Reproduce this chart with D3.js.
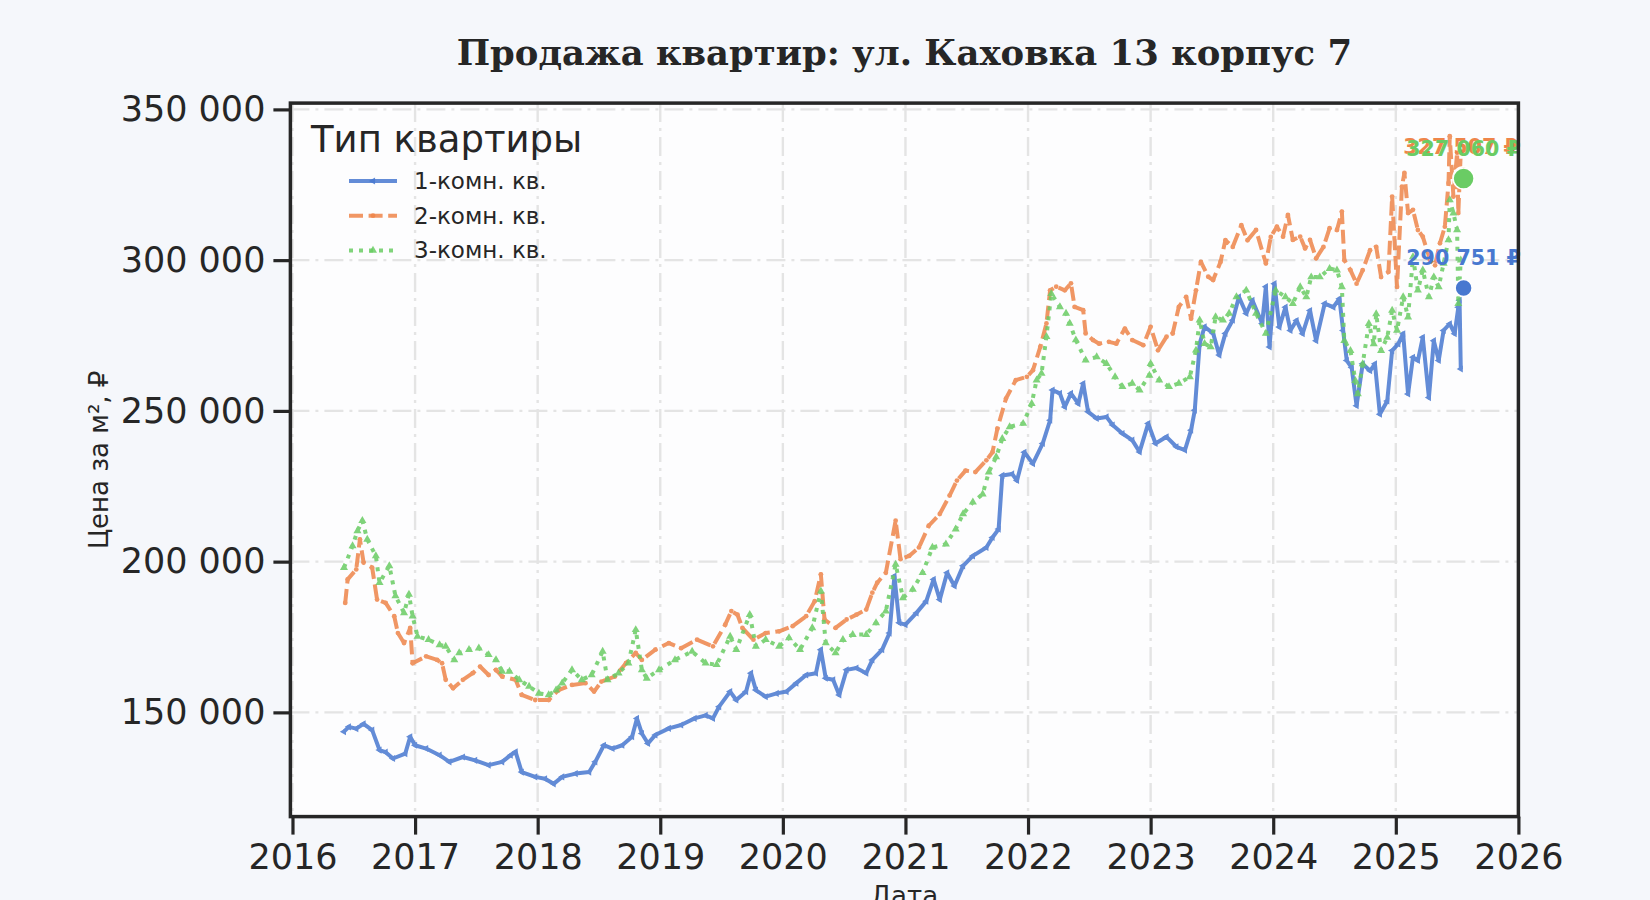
<!DOCTYPE html>
<html>
<head>
<meta charset="utf-8">
<script src="https://cdn.jsdelivr.net/npm/d3@7"></script>
<style>
  body { margin: 0; background: #f5f7fb; }
  svg { display: block; }
</style>
</head>
<body>
<svg id="chart" width="1650" height="900"></svg>
<script>
// price per m2, [decimal year, value]
const oneRoom = [[2016.42,143600],[2016.46,145200],[2016.52,144600],[2016.58,146200],[2016.65,144100],[2016.71,137500],[2016.76,136800],[2016.82,134700],[2016.92,136300],[2016.96,141900],[2017.0,139100],[2017.09,138000],[2017.2,135800],[2017.28,133600],[2017.39,135200],[2017.49,134100],[2017.6,132500],[2017.71,133600],[2017.78,135800],[2017.82,136900],[2017.87,130200],[2017.98,128600],[2018.06,128000],[2018.13,126300],[2018.2,128600],[2018.31,129700],[2018.42,130200],[2018.47,133600],[2018.54,139100],[2018.61,138000],[2018.69,139100],[2018.77,141900],[2018.81,148000],[2018.85,143000],[2018.9,139700],[2018.96,142500],[2019.07,144700],[2019.17,145800],[2019.28,148000],[2019.37,149000],[2019.43,148000],[2019.48,151900],[2019.57,156900],[2019.62,154100],[2019.7,156900],[2019.74,163000],[2019.78,157400],[2019.86,155200],[2019.95,156300],[2020.03,156900],[2020.11,159700],[2020.19,162400],[2020.27,163000],[2020.31,170800],[2020.35,161300],[2020.41,160800],[2020.46,155800],[2020.52,164100],[2020.6,164700],[2020.68,163000],[2020.73,167400],[2020.81,170800],[2020.87,176300],[2020.91,195200],[2020.95,179700],[2021.0,179100],[2021.09,183000],[2021.17,186900],[2021.23,194100],[2021.28,187400],[2021.34,196300],[2021.4,191900],[2021.47,198600],[2021.55,201900],[2021.66,204700],[2021.71,208000],[2021.76,210800],[2021.79,228600],[2021.87,229100],[2021.91,226900],[2021.97,236300],[2022.04,232500],[2022.12,239200],[2022.18,246900],[2022.2,256900],[2022.26,255800],[2022.3,251300],[2022.35,255800],[2022.41,252400],[2022.45,259100],[2022.49,249700],[2022.56,247500],[2022.64,248000],[2022.69,245300],[2022.77,242500],[2022.85,240300],[2022.91,236400],[2022.98,245800],[2023.04,239200],[2023.13,241400],[2023.21,238100],[2023.28,237000],[2023.33,243600],[2023.36,250200],[2023.4,272300],[2023.44,277900],[2023.51,275700],[2023.56,268500],[2023.61,275700],[2023.67,280100],[2023.72,287800],[2023.78,282300],[2023.83,286700],[2023.91,279000],[2023.94,291200],[2023.97,271200],[2024.01,292200],[2024.05,277800],[2024.1,284400],[2024.14,276700],[2024.19,280000],[2024.24,275600],[2024.3,283300],[2024.35,273300],[2024.42,285600],[2024.49,284400],[2024.54,287200],[2024.57,276700],[2024.6,266700],[2024.64,264400],[2024.68,251700],[2024.73,265600],[2024.79,263300],[2024.83,265600],[2024.87,248900],[2024.93,253300],[2024.97,270000],[2025.02,272200],[2025.06,275600],[2025.1,255600],[2025.14,267800],[2025.18,266700],[2025.22,274400],[2025.27,254400],[2025.31,273300],[2025.35,266700],[2025.39,276700],[2025.44,278900],[2025.48,275600],[2025.51,284400],[2025.52,286700],[2025.53,263900]];

const twoRoom = [[2016.43,186300],[2016.45,194100],[2016.52,197400],[2016.55,207400],[2016.58,199700],[2016.65,198000],[2016.69,187400],[2016.76,186300],[2016.83,181900],[2016.86,176300],[2016.91,173000],[2016.96,178000],[2016.98,166300],[2017.09,168600],[2017.18,167400],[2017.22,166300],[2017.25,160800],[2017.31,158000],[2017.39,160800],[2017.47,163000],[2017.53,165200],[2017.6,162400],[2017.66,164100],[2017.71,161900],[2017.82,160800],[2017.87,155800],[2017.98,154100],[2018.09,154100],[2018.17,157400],[2018.28,159100],[2018.39,159700],[2018.46,156900],[2018.52,160200],[2018.63,161900],[2018.72,166300],[2018.8,169700],[2018.85,167400],[2018.96,170800],[2019.07,173000],[2019.17,171300],[2019.3,174100],[2019.43,171900],[2019.53,179100],[2019.58,183600],[2019.63,182400],[2019.67,178000],[2019.76,174100],[2019.86,176300],[2019.97,176900],[2020.08,178600],[2020.19,181900],[2020.26,186900],[2020.31,195800],[2020.34,180800],[2020.43,178000],[2020.52,180800],[2020.6,182400],[2020.68,184100],[2020.73,189700],[2020.77,193000],[2020.84,196300],[2020.92,213600],[2020.96,200800],[2021.03,201900],[2021.11,204700],[2021.19,211900],[2021.28,215800],[2021.36,221900],[2021.42,226900],[2021.49,230200],[2021.57,229700],[2021.66,233600],[2021.71,236300],[2021.75,244100],[2021.82,254100],[2021.9,260200],[2021.99,261300],[2022.04,263500],[2022.1,271200],[2022.15,279000],[2022.18,290000],[2022.23,291200],[2022.3,290000],[2022.35,292300],[2022.38,284500],[2022.45,283400],[2022.47,275700],[2022.53,273500],[2022.58,272300],[2022.66,272900],[2022.72,272300],[2022.79,277300],[2022.85,273500],[2022.94,271800],[2023.0,277900],[2023.06,270100],[2023.13,274600],[2023.18,275700],[2023.23,284500],[2023.29,287800],[2023.33,280600],[2023.37,290000],[2023.41,299400],[2023.47,294500],[2023.51,293400],[2023.57,299400],[2023.61,306600],[2023.67,304400],[2023.74,311600],[2023.79,306600],[2023.86,310000],[2023.94,298900],[2023.98,307700],[2024.03,311100],[2024.08,307800],[2024.12,315000],[2024.16,306700],[2024.22,307800],[2024.26,303900],[2024.3,306700],[2024.35,300600],[2024.41,304400],[2024.46,310600],[2024.52,310000],[2024.56,316100],[2024.58,300000],[2024.63,296700],[2024.68,292200],[2024.73,296700],[2024.79,303300],[2024.84,304400],[2024.88,294400],[2024.94,296100],[2024.97,321100],[2025.01,291100],[2025.05,324400],[2025.07,328900],[2025.1,315600],[2025.14,316700],[2025.18,310000],[2025.22,307800],[2025.28,300000],[2025.32,298300],[2025.36,305600],[2025.4,311100],[2025.43,325600],[2025.44,341100],[2025.47,321100],[2025.5,335600],[2025.51,315600],[2025.53,336000]];

const threeRoom = [[2016.42,198000],[2016.49,205200],[2016.53,210200],[2016.57,213600],[2016.61,207400],[2016.68,201900],[2016.71,193000],[2016.79,198600],[2016.84,188600],[2016.91,183000],[2016.95,189100],[2016.98,181900],[2017.02,175200],[2017.11,174100],[2017.2,172400],[2017.25,171900],[2017.32,167400],[2017.36,169700],[2017.44,170800],[2017.52,171300],[2017.6,169100],[2017.66,167400],[2017.71,163600],[2017.77,163600],[2017.85,160800],[2017.93,158600],[2018.01,156300],[2018.09,155800],[2018.15,157400],[2018.2,159700],[2018.28,164100],[2018.36,160800],[2018.44,162400],[2018.53,170200],[2018.57,160800],[2018.66,163000],[2018.74,166300],[2018.8,177400],[2018.85,164100],[2018.89,161300],[2018.99,164100],[2019.12,167400],[2019.26,170200],[2019.37,166300],[2019.46,165800],[2019.57,175200],[2019.62,170800],[2019.73,182400],[2019.78,171900],[2019.86,174100],[2019.97,171900],[2020.05,174700],[2020.14,170800],[2020.24,178000],[2020.31,190200],[2020.35,173000],[2020.43,169700],[2020.49,174100],[2020.57,175800],[2020.68,175800],[2020.76,179700],[2020.84,183600],[2020.92,199100],[2020.98,188000],[2021.06,190800],[2021.14,196300],[2021.22,204700],[2021.33,205800],[2021.41,210800],[2021.47,215800],[2021.55,219700],[2021.63,222400],[2021.68,229700],[2021.74,234700],[2021.79,240800],[2021.85,244700],[2021.96,245800],[2022.03,252400],[2022.07,260200],[2022.11,262400],[2022.15,274600],[2022.19,288900],[2022.26,284500],[2022.31,282300],[2022.34,279000],[2022.39,273500],[2022.47,266800],[2022.56,267900],[2022.64,265700],[2022.71,261300],[2022.77,258000],[2022.85,259100],[2022.91,256900],[2022.99,261800],[2023.0,265700],[2023.07,260200],[2023.15,258000],[2023.23,259100],[2023.32,261300],[2023.37,270100],[2023.4,280100],[2023.44,272300],[2023.49,271200],[2023.53,281200],[2023.59,280100],[2023.64,282300],[2023.7,287800],[2023.78,290000],[2023.86,282300],[2023.94,275700],[2024.02,290000],[2024.1,287800],[2024.16,285600],[2024.22,291100],[2024.27,287800],[2024.31,294400],[2024.38,294400],[2024.46,297200],[2024.52,296700],[2024.56,291100],[2024.58,273300],[2024.63,270000],[2024.67,260000],[2024.69,255600],[2024.73,265600],[2024.78,278900],[2024.82,272200],[2024.84,282200],[2024.88,270000],[2024.93,274400],[2024.97,283300],[2025.01,276700],[2025.06,287800],[2025.1,281100],[2025.14,301100],[2025.18,290000],[2025.22,296700],[2025.27,287800],[2025.31,294400],[2025.35,291100],[2025.39,298900],[2025.43,306700],[2025.44,320000],[2025.47,315600],[2025.5,310000],[2025.51,285600],[2025.53,300000]];

// last known price, shown as dot + label
const lastPoints = [
    { key: 'two', date: 2025.553, value: 327507 },
    { key: 'three', date: 2025.553, value: 327060 },
    { key: 'one', date: 2025.553, value: 290751 }
];

const seriesNames = ['1-комн. кв.', '2-комн. кв.', '3-комн. кв.'];
const seriesKeys = ['one', 'two', 'three'];
const seriesColors = ['#4878d0', '#ee854a', '#6acc64'];
const yearTicks = [2016, 2017, 2018, 2019, 2020, 2021, 2022, 2023, 2024, 2025, 2026];
const priceTicks = [150000, 200000, 250000, 300000, 350000];

const svg = d3.select('#chart');
const W = 1650, H = 900;
const plot = { left: 290.4, right: 1518.4, top: 103.1, bottom: 816.6 };

const ru = d3.formatLocale({ decimal: ',', thousands: '\u00a0', grouping: [3], currency: ['', ' ₽'] });
const fmt = ru.format(',d');

const x = d3.scaleLinear().domain([2015.983, 2026.0]).range([plot.left, plot.right]);
const y = d3.scaleLinear().domain([115430, 352090]).range([plot.bottom, plot.top]);

svg.append('rect').attr('width', W).attr('height', H).attr('fill', '#f5f7fb');
svg.append('rect')
    .attr('x', plot.left).attr('y', plot.top)
    .attr('width', plot.right - plot.left).attr('height', plot.bottom - plot.top)
    .attr('fill', '#fdfdfe');

svg.append('defs').append('clipPath').attr('id', 'clip')
    .append('rect')
    .attr('x', plot.left).attr('y', plot.top)
    .attr('width', plot.right - plot.left).attr('height', plot.bottom - plot.top);

// grid
const grid = svg.append('g').attr('stroke', '#e4e4e4').attr('stroke-width', 2.4)
    .attr('stroke-dasharray', '19,6,3,6');
grid.selectAll('.vx').data(yearTicks).enter().append('line')
    .attr('x1', d => x(d)).attr('x2', d => x(d))
    .attr('y1', plot.top).attr('y2', plot.bottom);
grid.selectAll('.hy').data(priceTicks).enter().append('line')
    .attr('x1', plot.left).attr('x2', plot.right)
    .attr('y1', d => y(d)).attr('y2', d => y(d));

// lines
const styles = {
    one: { dash: null, marker: d3.symbol().type(d3.symbolTriangle).size(22), rot: -90 },
    two: { dash: '14,5.6', marker: d3.symbol().type(d3.symbolCircle).size(18), rot: 0 },
    three: { dash: '4,6', marker: d3.symbol().type(d3.symbolTriangle).size(28), rot: 0 }
};
const seriesData = { one: oneRoom, two: twoRoom, three: threeRoom };
const line = d3.line().x(d => x(d[0])).y(d => y(d[1]));

const lines = svg.append('g').attr('clip-path', 'url(#clip)');
seriesKeys.forEach(function(k, i) {
    const g = lines.append('g').attr('opacity', 0.85);
    g.append('path')
        .datum(seriesData[k])
        .attr('d', line)
        .attr('fill', 'none')
        .attr('stroke', seriesColors[i])
        .attr('stroke-width', 4)
        .attr('stroke-linejoin', 'round')
        .attr('stroke-dasharray', styles[k].dash);
    g.selectAll('path.m').data(seriesData[k]).enter().append('path')
        .attr('class', 'm')
        .attr('d', styles[k].marker)
        .attr('fill', seriesColors[i])
        .attr('transform', d => 'translate(' + x(d[0]) + ',' + y(d[1]) + ') rotate(' + styles[k].rot + ')');
});

// end points
const colorOf = k => seriesColors[seriesKeys.indexOf(k)];
svg.append('g').selectAll('circle').data(lastPoints).enter().append('circle')
    .attr('cx', d => x(d.date)).attr('cy', d => y(d.value))
    .attr('r', d => d.key === 'one' ? 8.5 : 10.5)
    .attr('fill', d => colorOf(d.key))
    .attr('stroke', '#ffffff').attr('stroke-width', 1.5);
svg.append('g').selectAll('text').data(lastPoints).enter().append('text')
    .attr('x', d => x(d.date)).attr('y', d => y(d.value) - 23)
    .attr('dx', d => d.key === 'two' ? -3 : 0)
    .attr('text-anchor', 'middle')
    .attr('font-family', 'DejaVu Sans').attr('font-weight', 'bold').attr('font-size', 20.6)
    .attr('fill', d => colorOf(d.key))
    .text(d => fmt(d.value) + ' ₽');

// axes
const yAxis = d3.axisLeft(y).tickValues(priceTicks).tickFormat(fmt).tickSize(17).tickPadding(8);
const xAxis = d3.axisBottom(x).tickValues(yearTicks).tickFormat(d3.format('d')).tickSize(18).tickPadding(10);

const gy = svg.append('g').attr('transform', 'translate(' + plot.left + ',0)').call(yAxis);
const gx = svg.append('g').attr('transform', 'translate(0,' + plot.bottom + ')').call(xAxis);
[gx, gy].forEach(function(g) {
    g.select('.domain').remove();
    g.selectAll('.tick line').attr('stroke', '#262626').attr('stroke-width', 3.2);
    g.selectAll('.tick text').attr('fill', '#262626')
        .attr('font-family', 'DejaVu Sans').attr('font-size', 35);
});

// spines
svg.append('rect')
    .attr('x', plot.left).attr('y', plot.top)
    .attr('width', plot.right - plot.left).attr('height', plot.bottom - plot.top)
    .attr('fill', 'none').attr('stroke', '#262626').attr('stroke-width', 3.5);

// labels
svg.append('text')
    .attr('x', (plot.left + plot.right) / 2).attr('y', 65)
    .attr('text-anchor', 'middle')
    .attr('font-family', 'DejaVu Serif').attr('font-weight', 'bold').attr('font-size', 35.4)
    .attr('fill', '#262626')
    .text('Продажа квартир: ул. Каховка 13 корпус 7');

svg.append('text')
    .attr('transform', 'translate(108,' + ((plot.top + plot.bottom) / 2) + ') rotate(-90)')
    .attr('text-anchor', 'middle')
    .attr('font-family', 'DejaVu Sans').attr('font-size', 26)
    .attr('fill', '#262626')
    .text('Цена за м², ₽');

svg.append('text')
    .attr('x', (plot.left + plot.right) / 2).attr('y', 905)
    .attr('text-anchor', 'middle')
    .attr('font-family', 'DejaVu Sans').attr('font-size', 26)
    .attr('fill', '#262626')
    .text('Дата');

// legend
const legend = svg.append('g');
legend.append('text')
    .attr('x', 311).attr('y', 152)
    .attr('font-family', 'DejaVu Sans').attr('font-size', 37)
    .attr('fill', '#262626')
    .text('Тип квартиры');

const item = legend.selectAll('g.item').data(seriesKeys).enter().append('g')
    .attr('class', 'item')
    .attr('transform', (d, i) => 'translate(0,' + (181 + i * 34.7) + ')');
item.append('line')
    .attr('x1', 349).attr('x2', 397)
    .attr('stroke', (d, i) => seriesColors[i])
    .attr('stroke-width', 4)
    .attr('stroke-opacity', 0.85)
    .attr('stroke-dasharray', d => styles[d].dash);
item.append('path')
    .attr('d', d => styles[d].marker())
    .attr('fill', (d, i) => seriesColors[i])
    .attr('opacity', 0.85)
    .attr('transform', d => 'translate(373,0) rotate(' + styles[d].rot + ')');
item.append('text')
    .attr('x', 414).attr('dy', '0.35em')
    .attr('font-family', 'DejaVu Sans').attr('font-size', 23)
    .attr('fill', '#262626')
    .text((d, i) => seriesNames[i]);
</script>
</body>
</html>
